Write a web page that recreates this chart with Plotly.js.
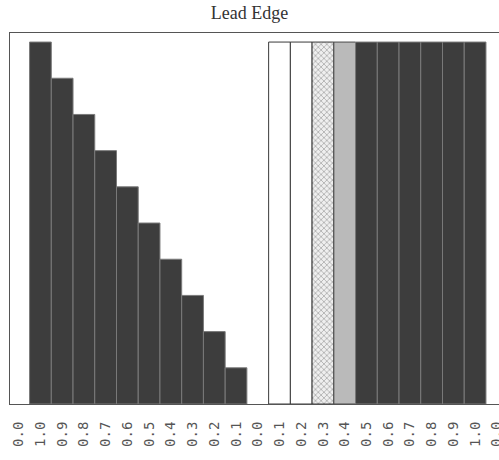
<!DOCTYPE html>
<html>
<head>
<meta charset="utf-8">
<script src="https://cdn.plot.ly/plotly-3.0.1.min.js"></script>
<style>
  html, body { margin: 0; padding: 0; background: #ffffff; }
  #chart { width: 499px; height: 460px; }
</style>
</head>
<body>
<div id="chart"></div>
<script>
// ---- data ----
const tickLabels = ["0.0","1.0","0.9","0.8","0.7","0.6","0.5","0.4","0.3","0.2","0.1",
                    "0.0","0.1","0.2","0.3","0.4","0.5","0.6","0.7","0.8","0.9","1.0","0.0"];
const barHeights = [0, 1.0, 0.9, 0.8, 0.7, 0.6, 0.5, 0.4, 0.3, 0.2, 0.1,
                    0, 1.0, 1.0, 1.0, 1.0, 1.0, 1.0, 1.0, 1.0, 1.0, 1.0, 0];
// shade class of each bar (as drawn in the original)
const barShade = ["none","dark","dark","dark","dark","dark","dark","dark","dark","dark","dark",
                  "none","white","white","light","medium","dark","dark","dark","dark","dark","dark","none"];

// ---- styles ----
const shadeFill  = { none: "rgba(0,0,0,0)", dark: "#3d3d3d", white: "#ffffff", light: "#efefef", medium: "#bababa" };
const shadeLine  = { none: "rgba(0,0,0,0)", dark: "#7a7a7a", white: "#3a3a3a", light: "#3a3a3a", medium: "#4a4a4a" };
const shadePat   = { none: "", dark: "", white: "", light: "x", medium: "" };

const xPos = tickLabels.map((_, i) => i);

const trace = {
  type: "bar",
  x: xPos,
  y: barHeights,
  width: 1,
  marker: {
    color: barShade.map(s => shadeFill[s]),
    line: { color: barShade.map(s => shadeLine[s]), width: 1 },
    pattern: {
      shape: barShade.map(s => shadePat[s]),
      fillmode: "overlay",
      fgcolor: "#9a9a9a",
      size: 4,
      solidity: 0.3
    }
  },
  hoverinfo: "skip"
};

const layout = {
  width: 499,
  height: 460,
  margin: { l: 10, r: 0, t: 33, b: 56, pad: 0 },
  paper_bgcolor: "#ffffff",
  plot_bgcolor: "#ffffff",
  showlegend: false,
  bargap: 0,
  title: {
    text: "Lead Edge",
    x: 0.5, xanchor: "center",
    y: 1 - 13 / 460, yanchor: "middle",
    font: { family: "Liberation Serif, Times New Roman, serif", size: 18, color: "#333333" }
  },
  xaxis: {
    range: [-0.4, 22.1],
    tickmode: "array",
    tickvals: xPos,
    ticktext: tickLabels,
    tickangle: -90,
    ticks: "outside",
    ticklen: 11,
    tickcolor: "rgba(0,0,0,0)",
    ticklabeloverflow: "allow",
    tickfont: { family: "DejaVu Sans Mono, monospace", size: 14, color: "#555555" },
    showgrid: false,
    zeroline: false,
    showline: true,
    mirror: true,
    linecolor: "#555555",
    linewidth: 1,
    fixedrange: true
  },
  yaxis: {
    range: [0, 1.025],
    showticklabels: false,
    ticks: "",
    showgrid: false,
    zeroline: false,
    showline: true,
    mirror: false,
    linecolor: "#555555",
    linewidth: 1,
    fixedrange: true
  }
};

Plotly.newPlot("chart", [trace], layout, { displayModeBar: false, staticPlot: true });
</script>
</body>
</html>
